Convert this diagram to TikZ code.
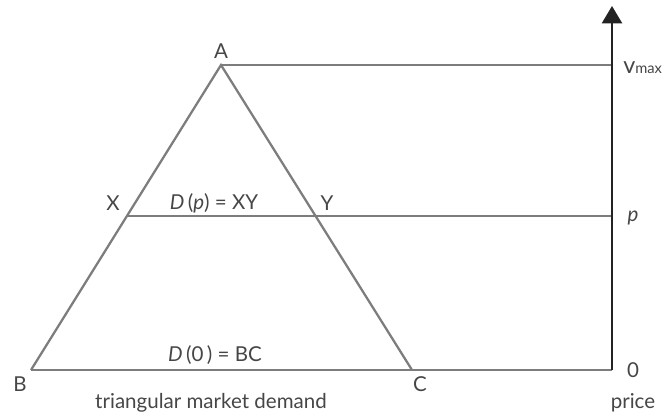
\documentclass[tikz,border=0pt]{standalone}
\usepackage{fontspec}
\setmainfont{Lato}
\usetikzlibrary{arrows.meta}
\definecolor{lineg}{RGB}{125,125,125}
\definecolor{axisk}{RGB}{35,35,35}
\definecolor{textg}{RGB}{70,70,70}
\tikzset{
    demandline/.style={line width=1.7pt,lineg},
    priceaxis/.style={-{Triangle[width=15pt,length=13pt]},line width=1.7pt,axisk},
    lbl/.style={text=textg,inner sep=0pt,font=\fontsize{15.4}{18}\selectfont}
}

\begin{document}
\begin{tikzpicture}[x=0.75pt,y=-0.75pt]
    \useasboundingbox (0,0) rectangle (665,417);
    % Corner points
    \coordinate (A) at (221,65);
    \coordinate (B) at (31,370);
    \coordinate (C) at (412,370);
    \coordinate (X) at (127,216);
    \coordinate (Y) at (316,216);
    % Points on the price axis
    \coordinate (zero) at (612,370);
    \coordinate (pp) at (612,216);
    \coordinate (vm) at (612,65);
    \coordinate (top) at (612,6);
    % Triangle and levels
    \draw[demandline,line join=miter] (B) -- (A) -- (C);
    \draw[demandline] (B) -- (zero);
    \draw[demandline] (X) -- (pp);
    \draw[demandline] (A) -- (vm);
    % Price axis
    \draw[priceaxis] (zero) -- (top);
    % Labels
    \node[lbl] (lA) at (221,51) {A};
    \node[lbl] (lX) at (113,203) {X};
    \node[lbl] (lY) at (327,203) {Y};
    \node[lbl] (lB) at (20,384) {B};
    \node[lbl] (lC) at (420,384) {C};
    \node[lbl] (dp) at (214,203) {\textit{D}\,(\textit{p}) = XY};
    \node[lbl] (d0) at (215,355) {\textit{D}\,(0\,) = BC};
    \node[lbl] (cap) at (211,403) {triangular market demand};
    \node[lbl] (lprice) at (633,403) {price};
    \node[lbl] (l0) at (633,370) {0};
    \node[lbl] (lp) at (633,218) {\textit{p}};
    \node[lbl,anchor=west] (lv) at (623,68) {{\fontsize{17.5}{18}\selectfont v}{\fontsize{11}{12}\selectfont max}};
\end{tikzpicture}
\end{document}
